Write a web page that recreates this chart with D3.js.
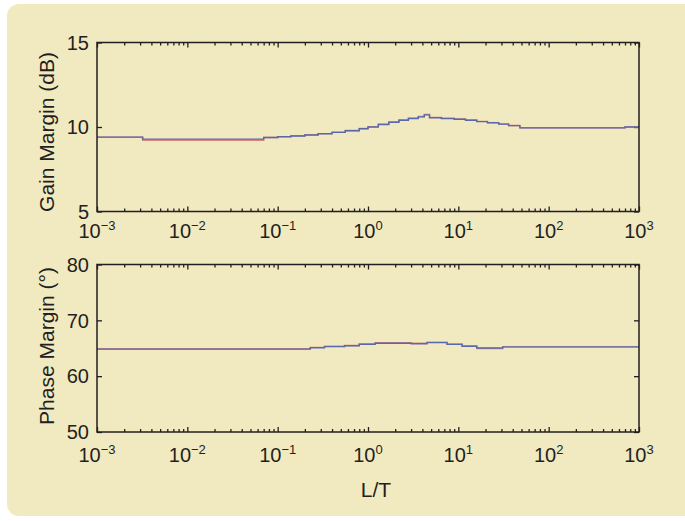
<!DOCTYPE html>
<html lang="en">
<head>
  <meta charset="UTF-8">
  <title>Gain and phase margin vs L/T</title>
  <script src="https://d3js.org/d3.v7.min.js"></script>
  <style>
    body {
      margin: 0;
      background: #fff;
      font-family: 'Liberation Sans', Arial, sans-serif;
    }
    svg {
      display: block;
    }
    .frame {
      fill: none;
      stroke: #231f20;
      stroke-width: 1.5;
    }
    .axis path {
      display: none;
    }
    .axis line {
      stroke: #231f20;
      stroke-width: 1.3;
    }
    .lbl {
      fill: #231f20;
    }
  </style>
</head>
<body>
  <svg id="chart" width="685" height="521"></svg>

  <script>
    // x axis: decades of L/T and the exponent shown in each tick label
    const decadeExps = [-3, -2, -1, 0, 1, 2, 3];
    const expLabels = ["\u22123", "\u22122", "\u22121", "0", "1", "2", "3"];

    // gain margin (dB), two almost identical curves
    const gainLT = [0.001, 0.0032, 0.07, 0.1, 0.14, 0.2, 0.28, 0.4, 0.56, 0.8, 1.0, 1.3, 1.7, 2.2, 2.8, 3.6, 4.2, 4.8, 6.5, 9, 12, 16, 21, 28, 36, 48, 700, 1000];
    const gainBlue = [9.40, 9.28, 9.38, 9.42, 9.47, 9.53, 9.60, 9.68, 9.78, 9.90, 10.00, 10.15, 10.28, 10.40, 10.50, 10.60, 10.72, 10.55, 10.50, 10.46, 10.40, 10.32, 10.25, 10.17, 10.08, 9.95, 10.00, 10.00];
    const gainRed = [9.40, 9.22, 9.38, 9.43, 9.48, 9.54, 9.61, 9.69, 9.79, 9.91, 10.02, 10.16, 10.30, 10.42, 10.52, 10.62, 10.74, 10.57, 10.51, 10.47, 10.41, 10.33, 10.26, 10.18, 10.09, 9.96, 10.01, 10.01];
    const gainTicks = [5, 10, 15];

    // phase margin (deg)
    const phaseLT = [0.001, 0.23, 0.33, 0.55, 0.8, 1.2, 3.0, 4.5, 7.5, 11, 16, 31, 1000];
    const phaseBlue = [64.85, 65.1, 65.3, 65.45, 65.7, 65.9, 65.8, 66.0, 65.7, 65.35, 65.05, 65.25, 65.25];
    const phaseRed = [64.9, 65.15, 65.35, 65.5, 65.8, 66.0, 65.9, 66.1, 65.75, 65.4, 64.95, 65.25, 65.25];
    const phaseTicks = [50, 60, 70, 80];

    const svg = d3.select("#chart");

    // cream panel with rounded corners
    svg.append("rect")
      .attr("x", 7).attr("y", 4)
      .attr("width", 700).attr("height", 512)
      .attr("rx", 12)
      .attr("fill", "#f1e9c0");

    const x = d3.scaleLog().domain([1e-3, 1e3]).range([97, 639]);
    const majorTicks = decadeExps.map(e => Math.pow(10, e));
    const minorTicks = [];
    decadeExps.slice(0, -1).forEach(e => {
      for (let k = 2; k <= 9; k++) minorTicks.push(k * Math.pow(10, e));
    });

    function drawPlot(cfg) {
      const y = d3.scaleLinear().domain(cfg.domain).range(cfg.range);
      const g = svg.append("g");
      const top = cfg.range[1], bottom = cfg.range[0];

      // inward ticks on all four sides
      g.append("g").attr("class", "axis")
        .attr("transform", `translate(0,${bottom})`)
        .call(d3.axisBottom(x).tickValues(minorTicks).tickSize(-3).tickFormat(""));
      g.append("g").attr("class", "axis")
        .attr("transform", `translate(0,${bottom})`)
        .call(d3.axisBottom(x).tickValues(majorTicks).tickSize(-5).tickFormat(""));
      g.append("g").attr("class", "axis")
        .attr("transform", `translate(0,${top})`)
        .call(d3.axisTop(x).tickValues(minorTicks).tickSize(-3).tickFormat(""));
      g.append("g").attr("class", "axis")
        .attr("transform", `translate(0,${top})`)
        .call(d3.axisTop(x).tickValues(majorTicks).tickSize(-5).tickFormat(""));
      g.append("g").attr("class", "axis")
        .attr("transform", `translate(${x.range()[0]},0)`)
        .call(d3.axisLeft(y).tickValues(cfg.ticks).tickSize(-5).tickFormat(""));
      g.append("g").attr("class", "axis")
        .attr("transform", `translate(${x.range()[1]},0)`)
        .call(d3.axisRight(y).tickValues(cfg.ticks).tickSize(-5).tickFormat(""));

      if (cfg.boldTick !== undefined) {
        g.selectAll(".axis .tick")
          .filter(d => d === cfg.boldTick)
          .select("line")
          .attr("stroke-width", 3);
      }

      // curves (stepped, red underneath blue)
      const line = d3.line()
        .x(d => x(d[0]))
        .y(d => y(d[1]))
        .curve(d3.curveStepAfter);
      [[cfg.red, "#d8857c"], [cfg.blue, "#5868ad"]].forEach(([vals, col]) => {
        g.append("path")
          .datum(cfg.lt.map((v, i) => [v, vals[i]]))
          .attr("fill", "none")
          .attr("stroke", col)
          .attr("stroke-width", 1.4)
          .attr("d", line);
      });

      g.append("rect").attr("class", "frame")
        .attr("x", x.range()[0]).attr("y", top)
        .attr("width", x.range()[1] - x.range()[0])
        .attr("height", bottom - top);

      // y tick labels
      g.selectAll(".ylbl")
        .data(cfg.ticks)
        .join("text")
        .attr("class", "lbl")
        .attr("x", 89)
        .attr("y", d => y(d))
        .attr("dy", "0.36em")
        .attr("text-anchor", "end")
        .attr("font-size", 20)
        .text(d => d);

      // x tick labels: 10 with superscript exponent
      const xl = g.selectAll(".xlbl")
        .data(majorTicks)
        .join("text")
        .attr("class", "lbl")
        .attr("x", d => x(d))
        .attr("y", bottom + cfg.labelGap)
        .attr("text-anchor", "middle")
        .attr("font-size", 20);
      xl.append("tspan").text("10");
      xl.append("tspan")
        .attr("dy", -8)
        .attr("font-size", 13)
        .text((d, i) => expLabels[i]);

      // y axis title
      svg.append("text")
        .attr("class", "lbl")
        .attr("transform", `translate(54,${cfg.titleY}) rotate(-90)`)
        .attr("text-anchor", "middle")
        .attr("font-size", 21)
        .text(cfg.title);
    }

    drawPlot({
      domain: [5, 15], range: [211.5, 42.5], ticks: gainTicks,
      lt: gainLT, blue: gainBlue, red: gainRed,
      labelGap: 26, title: "Gain Margin (dB)", titleY: 132
    });

    drawPlot({
      domain: [50, 80], range: [432, 264.5], ticks: phaseTicks, boldTick: 60,
      lt: phaseLT, blue: phaseBlue, red: phaseRed,
      labelGap: 30, title: "Phase Margin (\u00b0)", titleY: 346
    });

    svg.append("text")
      .attr("class", "lbl")
      .attr("x", 376)
      .attr("y", 497)
      .attr("text-anchor", "middle")
      .attr("font-size", 21)
      .text("L/T");
  </script>
</body>
</html>
